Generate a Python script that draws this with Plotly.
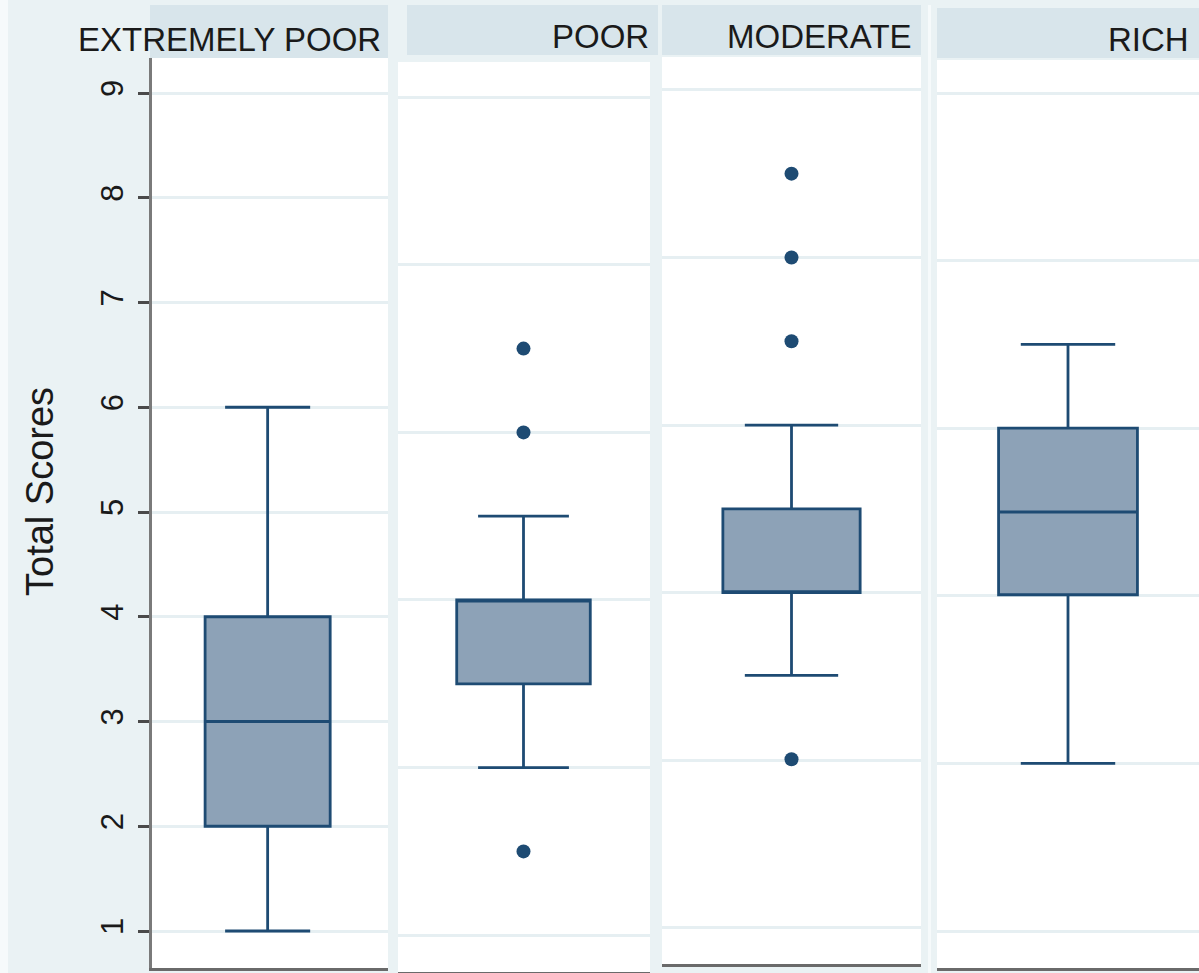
import plotly.graph_objects as go

# Total scores by wealth group: box summaries and outside values
groups = ["EXTREMELY POOR", "POOR", "MODERATE", "RICH"]
lower_whisker = [1.0, 2.56, 3.44, 2.60]
q1_vals = [2.0, 3.36, 4.23, 4.21]
median_vals = [3.0, 4.16, 4.23, 5.0]
q3_vals = [4.0, 4.16, 5.03, 5.80]
upper_whisker = [6.0, 4.96, 5.83, 6.60]
outliers = [[], [6.56, 5.76, 1.76], [8.23, 7.43, 6.63, 2.64], []]

# y tick labels on the left axis
y_ticks = [1, 2, 3, 4, 5, 6, 7, 8, 9]
# horizontal grid positions for the other panels
grid_poor = [0.96, 2.56, 4.16, 5.76, 7.36, 8.96]
grid_moderate = [1.03, 2.63, 4.23, 5.83, 7.43, 9.03]
grid_rich = [1.0, 2.6, 4.2, 5.8, 7.4, 9.0]
panel_grids = [y_ticks, grid_poor, grid_moderate, grid_rich]

W, H = 1199, 973
BG = "#eaf2f4"
STRIP = "#d8e5eb"
GRID = "#e6eff2"
NAVY = "#1e4b73"
FILL = "#8da2b7"
FONT = "Arial, Liberation Sans"


def fx(px):
    return px / W


def fy(px):
    return 1 - px / H


# panel geometry in pixels: left, right, top, bottom, box centre fraction
panels = [
    (152, 388, 58, 968, 0.49),
    (398, 650, 62, 972, 0.498),
    (662, 921, 57, 964, 0.50),
    (937, 1199, 60, 968, 0.50),
]
strips = [(150, 388, 5, 58), (407, 658, 5, 55), (662, 921, 5, 55), (937, 1199, 8, 58)]
label_right = [383, 651, 914, 1191]
label_y = [39, 36, 36, 40]

PX_PER_UNIT = 104.75
BASE_PX = 931  # pixel row of value 1

fig = go.Figure()
shapes = []
annotations = []

for i, g in enumerate(groups):
    n = i + 1
    xa = "x" if n == 1 else f"x{n}"
    ya = "y" if n == 1 else f"y{n}"
    left, right, top, bottom, cfrac = panels[i]

    fig.add_trace(go.Box(
        x=[0], q1=[q1_vals[i]], median=[median_vals[i]], q3=[q3_vals[i]],
        lowerfence=[lower_whisker[i]], upperfence=[upper_whisker[i]],
        width=0.53, whiskerwidth=0.68, boxpoints=False,
        fillcolor=FILL, line=dict(color=NAVY, width=2.8),
        xaxis=xa, yaxis=ya, showlegend=False, name=g,
    ))
    if outliers[i]:
        fig.add_trace(go.Scatter(
            x=[0] * len(outliers[i]), y=outliers[i], mode="markers",
            marker=dict(size=14, color=NAVY), xaxis=xa, yaxis=ya,
            showlegend=False, name=g,
        ))

    ylo = 1 - (bottom - BASE_PX) / PX_PER_UNIT
    yhi = 1 + (BASE_PX - top) / PX_PER_UNIT

    xkey = "xaxis" if n == 1 else f"xaxis{n}"
    ykey = "yaxis" if n == 1 else f"yaxis{n}"
    fig.layout[xkey] = dict(
        domain=[fx(left), min(1.0, fx(right))], anchor=ya,
        range=[-cfrac, 1 - cfrac], showticklabels=False, ticks="",
        showgrid=False, zeroline=False, showline=True,
        linecolor="#6a6a6a", linewidth=2.5, fixedrange=True,
    )
    ycfg = dict(
        domain=[fy(bottom), fy(top)], anchor=xa, range=[ylo, yhi],
        tickmode="array", tickvals=panel_grids[i],
        showgrid=True, gridcolor=GRID, gridwidth=2.5,
        zeroline=False, fixedrange=True,
    )
    if n == 1:
        ycfg.update(
            showline=True, linecolor="#7a7a7a", linewidth=2.5,
            ticks="outside", ticklen=11, tickwidth=2.5, tickcolor="#4a4a4a",
            tickangle=-90, ticktext=[str(v) for v in y_ticks],
            tickfont=dict(family=FONT, size=31, color="#1a1a1a"),
            ticklabelstandoff=3,
        )
    else:
        ycfg.update(showline=False, showticklabels=False, ticks="")
    fig.layout[ykey] = ycfg

    sx0, sx1, sy0, sy1 = strips[i]
    shapes.append(dict(
        type="rect", xref="paper", yref="paper",
        x0=fx(sx0), x1=fx(sx1), y0=fy(sy1), y1=fy(sy0),
        fillcolor=STRIP, line=dict(width=0), layer="below",
    ))
    annotations.append(dict(
        text=g, xref="paper", yref="paper", x=fx(label_right[i]), y=fy(label_y[i]),
        xanchor="right", yanchor="middle", showarrow=False,
        font=dict(family=FONT, size=33, color="#1a1a1a"),
    ))

# light edge along the left border and a thin light rule between the last panels
shapes.append(dict(type="rect", xref="paper", yref="paper", x0=0, x1=fx(8), y0=0, y1=1,
                   fillcolor="#f6fafb", line=dict(width=0), layer="below"))
shapes.append(dict(type="rect", xref="paper", yref="paper", x0=fx(928), x1=fx(931), y0=0, y1=fy(5),
                   fillcolor="#f6fafb", line=dict(width=0), layer="below"))

annotations.append(dict(
    text="Total Scores", xref="paper", yref="paper", x=fx(40), y=fy(492),
    xanchor="center", yanchor="middle", textangle=-90, showarrow=False,
    font=dict(family=FONT, size=38, color="#1a1a1a"),
))

fig.update_layout(
    width=W, height=H, margin=dict(l=0, r=0, t=0, b=0),
    paper_bgcolor=BG, plot_bgcolor="white",
    shapes=shapes, annotations=annotations, showlegend=False,
)

fig.write_html("out.html", config={"displayModeBar": False})
